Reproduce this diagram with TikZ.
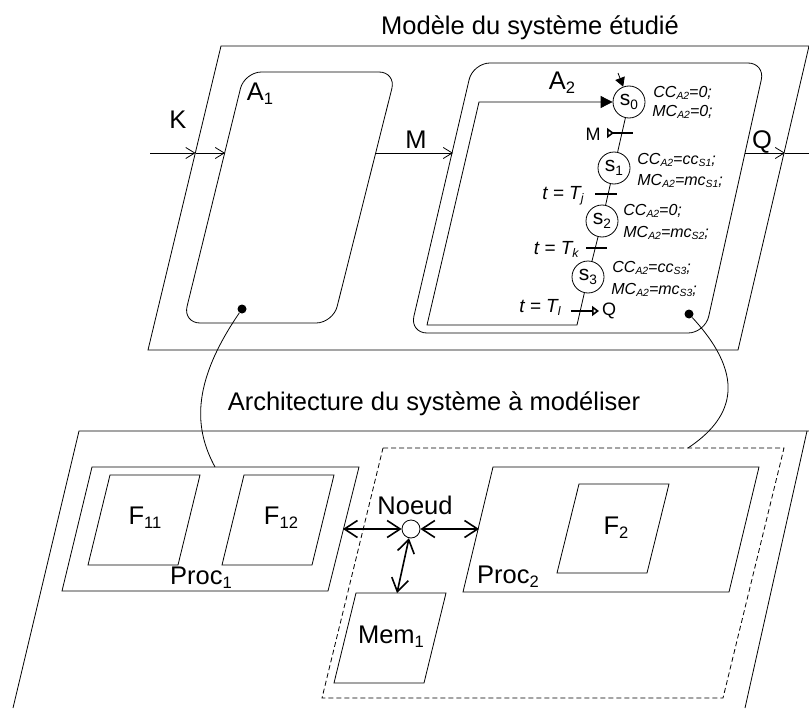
\documentclass[tikz,border=0pt]{standalone}
\usepackage{fontspec}
\setmainfont{Liberation Sans}
\usetikzlibrary{automata,arrows.meta,positioning,calc}
\newcommand{\ind}[1]{\raisebox{-0.3ex}{\scalebox{0.65}{#1}}}
\newcommand{\etat}[1]{{\fontsize{16}{18}\selectfont\itshape CC\ind{A2}=#1;}}
\newcommand{\memo}[1]{{\fontsize{16}{18}\selectfont\itshape MC\ind{A2}=#1;}}

\begin{document}
\begin{tikzpicture}[x=1pt,y=-1pt,>={Straight Barb[length=9pt,width=11pt]},line width=0.8pt,
			font=\fontsize{25.5}{28}\selectfont]
			\tikzstyle{every state}=[fill=white,draw=black,line width=0.8pt,text=black,minimum size=32pt,inner sep=0pt,font=\fontsize{21}{23}\selectfont]
			\tikzstyle{txt}=[inner sep=0pt]
			\tikzstyle{cond}=[inner sep=0pt,anchor=west]
			\tikzstyle{garde}=[inner sep=0pt,anchor=east,font=\fontsize{19}{21}\selectfont\itshape]
			\tikzstyle{bar}=[line width=1.6pt]
			\tikzstyle{link}=[{Straight Barb[length=13pt,width=17pt]}-{Straight Barb[length=13pt,width=17pt]},line width=1.6pt]
			\tikzstyle{dot}=[circle,fill=black,inner sep=0pt,minimum size=9pt]
			\useasboundingbox (0,0) rectangle (809,709);

			% modele
			\coordinate (T1) at (221,46);
			\coordinate (T2) at (809,46);
			\coordinate (T3) at (738,350);
			\coordinate (T4) at (148,350);
			\draw (T1) -- (T2) -- (T3) -- (T4) -- cycle;
			\node[txt] (Titre1) at (530,28) {Modèle du système étudié};

			\coordinate (A11) at (244.5,72);
			\coordinate (A12) at (396,72);
			\coordinate (A13) at (333,323);
			\coordinate (A14) at (183,323);
			\draw[rounded corners=17pt] (A11) -- (A12) -- (A13) -- (A14) -- cycle;
			\coordinate (A21) at (473,63);
			\coordinate (A22) at (765,63);
			\coordinate (A23) at (705,333);
			\coordinate (A24) at (410,333);
			\draw[rounded corners=17pt] (A21) -- (A22) -- (A23) -- (A24) -- cycle;

			\node[txt] (K) at (178,120) {K};
			\node[txt] (A1) at (260,94) {A\ind{1}};
			\node[txt] (M) at (416,140) {M};
			\node[txt] (A2) at (562,83) {A\ind{2}};
			\node[txt] (Q) at (762,142) {Q};

			\coordinate (Kin) at (150,153);
			\coordinate (Kf) at (195.5,153);
			\coordinate (A1w) at (225,153);
			\coordinate (A1e) at (376,153);
			\coordinate (A2w) at (453,153);
			\coordinate (A2e) at (745,153);
			\coordinate (Qf) at (785,153);
			\coordinate (Qout) at (809,153);
			\path[draw]
			(Kin) edge[->] (Kf)
			(Kf) edge[->] (A1w)
			(A1e) edge[->] (A2w)
			(A2e) edge[->] (Qf)
			(Qf) edge (Qout);

			% automate
			\node[state] (S0) at (629,102) {s\ind{0}};
			\node[state] (S1) at (614,168) {s\ind{1}};
			\node[state] (S2) at (602,221) {s\ind{2}};
			\node[state] (S3) at (588,277) {s\ind{3}};
			\coordinate (L1) at (577,325);
			\coordinate (L2) at (427,325);
			\coordinate (L3) at (479,102);
			\coordinate (I0) at (618,73);
			\draw (S0) -- (S1) -- (S2) -- (S3);
			\draw[-{Triangle[length=12pt,width=12pt]}] (S3) -- (L1) -- (L2) -- (L3) -- (S0);
			\draw[-{Triangle[length=9pt,width=10pt]}] (I0) -- (S0);

			\coordinate (B1a) at (633,133);
			\coordinate (B1b) at (607,133);
			\coordinate (B2a) at (595,194);
			\coordinate (B2b) at (617,194);
			\coordinate (B3a) at (586,248);
			\coordinate (B3b) at (607,248);
			\coordinate (B4a) at (571,311);
			\coordinate (B4b) at (599,311);
			\draw[bar,{Triangle[open,reversed,length=7pt,width=10pt]}-] (B1b) -- (B1a);
			\draw[bar] (B2a) -- (B2b);
			\draw[bar] (B3a) -- (B3b);
			\draw[bar,-{Triangle[open,length=7pt,width=10pt]}] (B4a) -- (B4b);
			\node[txt,font=\fontsize{18}{20}\selectfont] (Mt) at (593,134) {M};
			\node[txt,font=\fontsize{18}{20}\selectfont] (Qt) at (609,311) {Q};
			\node[garde] (Tj) at (584,196) {t = T\ind{j}};
			\node[garde] (Tk) at (579,249) {t = T\ind{k}};
			\node[garde] (Tl) at (561,307) {t = T\ind{l}};

			\node[cond] (C0) at (653,93) {\etat{0}};
			\node[cond] (D0) at (652,112) {\memo{0}};
			\node[cond] (C1) at (637,160) {\etat{cc\ind{S1}}};
			\node[cond] (D1) at (637,181) {\memo{mc\ind{S1}}};
			\node[cond] (C2) at (623,211) {\etat{0}};
			\node[cond] (D2) at (623,233) {\memo{mc\ind{S2}}};
			\node[cond] (C3) at (612,268) {\etat{cc\ind{S3}}};
			\node[cond] (D3) at (611,290) {\memo{mc\ind{S3}}};

			% architecture
			\node[txt] (Titre2) at (434,404) {Architecture du système à modéliser};
			\coordinate (B1) at (13,708);
			\coordinate (B2) at (79,431);
			\coordinate (B3) at (809,431);
			\coordinate (B5) at (807,431);
			\coordinate (B4) at (745,708);
			\draw (B1) -- (B2) -- (B3);
			\draw (B5) -- (B4);
			\draw[dashed,dash pattern=on 5pt off 3pt] (383,448) -- (784,448) -- (723,698) -- (322,698) -- cycle;

			\draw (92,467) -- (359,467) -- (328,591) -- (62,591) -- cycle;
			\draw (110,475) -- (200,475) -- (178,565) -- (88,565) -- cycle;
			\draw (244,475) -- (334,475) -- (312,565) -- (222,565) -- cycle;
			\draw (493,467) -- (759,467) -- (729,592) -- (463,592) -- cycle;
			\draw (579,484) -- (669,484) -- (647,573) -- (557,573) -- cycle;
			\draw (356,593) -- (446,593) -- (424,683) -- (334,683) -- cycle;
			\node[txt] (F11) at (145,518) {F\ind{11}};
			\node[txt] (F12) at (281,518) {F\ind{12}};
			\node[txt] (Proc1) at (201,578) {Proc\ind{1}};
			\node[txt] (Proc2) at (508,577) {Proc\ind{2}};
			\node[txt] (F2) at (616,528) {F\ind{2}};
			\node[txt] (Mem1) at (391,637) {Mem\ind{1}};
			\node[txt] (Noeud) at (415,505) {Noeud};

			\node[circle,draw,minimum size=18pt,inner sep=0pt] (N) at (411,529) {};
			\coordinate (P1e) at (343,529);
			\coordinate (P2w) at (479,529);
			\coordinate (M1n) at (397,593);
			\path
			(N) edge[link] (P1e)
			(N) edge[link] (P2w)
			(N) edge[link] (M1n);

			% liens
			\node[dot] (D11) at (242,309) {};
			\node[dot] (D22) at (689,314) {};
			\coordinate (E1) at (215,467);
			\coordinate (E2) at (688,448);
			\draw (D11) .. controls (190,385) and (195,430) .. (E1);
			\draw (D22) .. controls (750,380) and (730,420) .. (E2);
			\end{tikzpicture}
\end{document}
